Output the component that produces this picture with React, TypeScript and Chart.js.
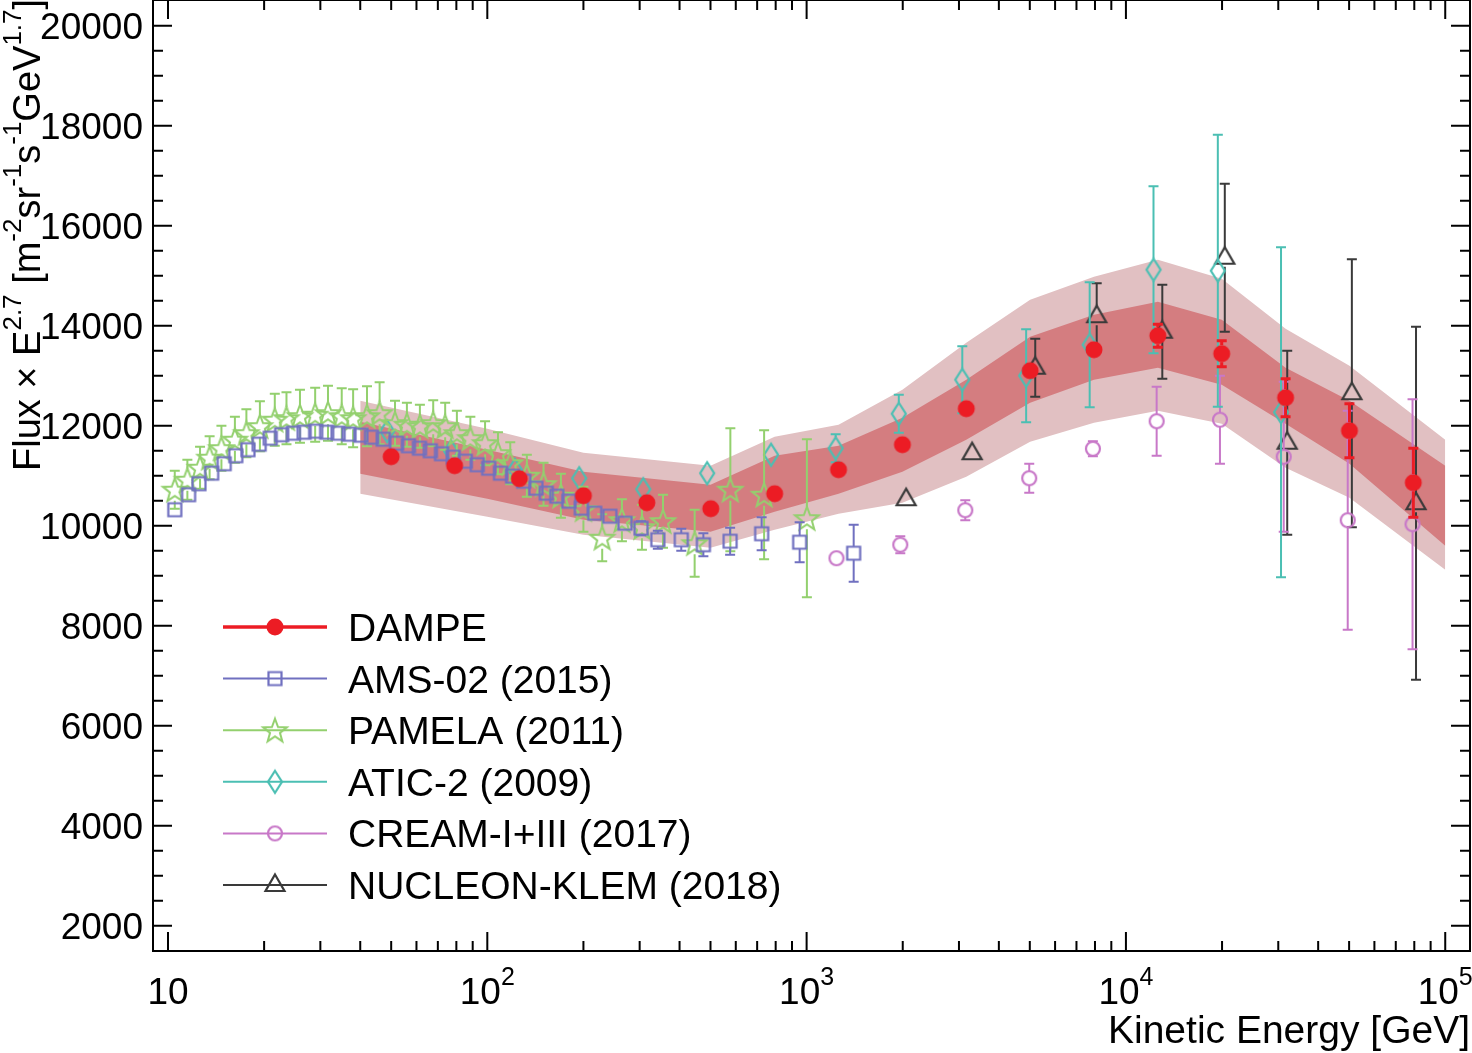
import { useEffect, useRef } from "react";
import { Chart, registerables } from "chart.js";

Chart.register(...registerables);

// ---- data (E in GeV, flux x E^2.7) ----
const dampeEnergy = [50, 79, 126, 200, 316, 501, 794, 1259, 1995, 3162, 5012, 7943, 12589, 19953, 31623, 50119, 79433];
const dampeFlux = [11380, 11200, 10940, 10600, 10460, 10340, 10640, 11120, 11620, 12340, 13100, 13520, 13800, 13440, 12560, 11900, 10860];
const dampeError = [40, 40, 40, 40, 50, 60, 70, 80, 100, 110, 130, 160, 230, 260, 380, 540, 690];

const amsEnergy = [10.5, 11.6, 12.5, 13.7, 15.0, 16.3, 17.8, 19.3, 20.9, 22.7, 24.7, 26.7, 29.0, 31.4, 34.1, 36.9, 40.2, 43.4, 47.2, 52.0, 56.6, 61.3, 66.3, 71.9, 78.2, 85.3, 93.0, 101, 110, 120, 130, 142, 153, 165, 180, 197, 217, 242, 270, 303, 342, 405, 475, 576, 723, 951, 1404];
const amsFlux = [10320, 10620, 10840, 11050, 11240, 11400, 11520, 11630, 11750, 11820, 11850, 11870, 11890, 11870, 11850, 11830, 11810, 11770, 11730, 11650, 11600, 11550, 11500, 11440, 11370, 11290, 11220, 11150, 11050, 10990, 10890, 10750, 10650, 10590, 10490, 10350, 10250, 10190, 10050, 9950, 9720, 9720, 9620, 9690, 9840, 9670, 9450];
const amsError = [50, 50, 50, 50, 50, 50, 50, 50, 50, 50, 50, 50, 50, 50, 50, 50, 60, 60, 60, 70, 70, 70, 70, 70, 80, 80, 80, 80, 90, 90, 90, 100, 100, 100, 110, 110, 120, 120, 130, 140, 180, 220, 230, 270, 330, 400, 570];

const pamelaEnergy = [10.5, 11.5, 12.6, 13.5, 14.7, 16.2, 17.6, 19.4, 21.6, 23.5, 25.9, 28.9, 31.7, 35.0, 38.0, 42.0, 46.0, 51.4, 56.0, 61.5, 67.7, 73.8, 80.3, 88.5, 98.4, 108, 118, 133, 150, 170, 200, 229, 264, 305, 355, 446, 577, 736, 1002];
const pamelaFlux = [10720, 10920, 11160, 11360, 11550, 11720, 11850, 11990, 12120, 12150, 12190, 12220, 12250, 12190, 12150, 12190, 12250, 12050, 12020, 11990, 12050, 11990, 11850, 11750, 11650, 11450, 11250, 11000, 10830, 10600, 10330, 9760, 10110, 9970, 10090, 9650, 10720, 10620, 10150];
const pamelaError = [380, 400, 420, 430, 450, 460, 480, 500, 520, 520, 530, 540, 550, 560, 580, 600, 620, 450, 440, 430, 460, 470, 450, 430, 440, 420, 420, 420, 430, 440, 450, 470, 420, 450, 530, 670, 1230, 1290, 1580];

const aticEnergy = [48.6, 77.0, 122, 194, 308, 488, 774, 1233, 1944, 3073, 4870, 7700, 12200, 19400, 30600];
const aticFlux = [11890, 11490, 11120, 10950, 10730, 11050, 11420, 11550, 12240, 12920, 13000, 13620, 15120, 15100, 12270];
const aticError = [100, 100, 100, 110, 130, 150, 200, 280, 380, 670, 930, 1250, 1670, 2720, 3300];

const creamEnergy = [1240, 1965, 3140, 4980, 7880, 12480, 19700, 31200, 49500, 79000];
const creamFlux = [9350, 9620, 10310, 10950, 11540, 12090, 12120, 11380, 10110, 10030];
const creamError = [100, 170, 200, 290, 150, 690, 880, 1500, 2190, 2500];

const nucleonEnergy = [2050, 3300, 5200, 8100, 13000, 20400, 32000, 51000, 81000];
const nucleonFlux = [10530, 11450, 13160, 14190, 13880, 15360, 11660, 12650, 10450];
const nucleonError = [100, 100, 580, 660, 940, 1480, 1840, 2680, 3530];

// DAMPE uncertainty bands (outer = light, inner = dark)
const bandEnergy = [40, 100, 200, 500, 794, 1259, 1995, 3162, 5012, 7943, 12589, 19953, 31623, 50119, 100000];
const bandOuterHigh = [12500, 11940, 11460, 11200, 11780, 12020, 12720, 13660, 14520, 14980, 15320, 14940, 13940, 13200, 11720];
const bandInnerHigh = [12080, 11520, 11080, 10820, 11400, 11600, 12160, 12920, 13780, 14220, 14480, 14120, 13160, 12500, 11200];
const bandInnerLow = [11040, 10540, 10120, 9880, 10280, 10640, 11080, 11720, 12460, 12920, 13160, 12820, 12040, 11240, 9600];
const bandOuterLow = [10640, 10180, 9820, 9560, 9920, 10240, 10460, 10980, 11680, 12060, 12300, 12040, 11160, 10560, 9120];

const yTickValues = [2000, 4000, 6000, 8000, 10000, 12000, 14000, 16000, 18000, 20000];
const yTickLabels = ["2000", "4000", "6000", "8000", "10000", "12000", "14000", "16000", "18000", "20000"];
const xDecades = [10, 100, 1000, 10000, 100000];
const xTickLabels = [["10", ""], ["10", "2"], ["10", "3"], ["10", "4"], ["10", "5"]];

const legendLabels = ["DAMPE", "AMS-02 (2015)", "PAMELA (2011)", "ATIC-2 (2009)", "CREAM-I+III (2017)", "NUCLEON-KLEM (2018)"];

const FONT = '"Liberation Sans", Arial, Helvetica, sans-serif';
const RED = "#ec1c24";
const BLUE = "#7070c0";
const GREEN = "#93d06e";
const TEAL = "#4bbfb3";
const PINK = "#c878c8";
const DARK = "#3a3a3a";

function makeMarker(kind: string, color: string) {
  const c = document.createElement("canvas");
  c.width = 30;
  c.height = 30;
  const g = c.getContext("2d")!;
  const m = 15;
  g.strokeStyle = color;
  g.fillStyle = color;
  g.lineWidth = 2.2;
  g.beginPath();
  if (kind === "disc") {
    g.arc(m, m, 8.5, 0, Math.PI * 2);
    g.fill();
  } else if (kind === "square") {
    g.rect(m - 6.5, m - 6.5, 13, 13);
    g.stroke();
  } else if (kind === "circle") {
    g.arc(m, m, 7, 0, Math.PI * 2);
    g.stroke();
  } else if (kind === "diamond") {
    g.moveTo(m, m - 11);
    g.lineTo(m + 7, m);
    g.lineTo(m, m + 11);
    g.lineTo(m - 7, m);
    g.closePath();
    g.stroke();
  } else if (kind === "triangle") {
    g.moveTo(m, m - 10.5);
    g.lineTo(m + 9.5, m + 6);
    g.lineTo(m - 9.5, m + 6);
    g.closePath();
    g.stroke();
  } else if (kind === "star") {
    for (let k = 0; k < 10; k++) {
      const r = k % 2 === 0 ? 12.5 : 5.2;
      const a = -Math.PI / 2 + (k * Math.PI) / 5;
      const px = m + r * Math.cos(a);
      const py = m + 1 + r * Math.sin(a);
      if (k === 0) g.moveTo(px, py);
      else g.lineTo(px, py);
    }
    g.closePath();
    g.lineWidth = 2;
    g.stroke();
  }
  return c;
}

const toPoints = (xs: number[], ys: number[]) => xs.map((x, i) => ({ x, y: ys[i] }));

const errorBarPlugin = {
  id: "errorBars",
  beforeDatasetDraw(chart: any, args: any) {
    const ds = chart.data.datasets[args.index];
    if (!ds.errors) return;
    const { ctx, chartArea, scales } = chart;
    ctx.save();
    ctx.beginPath();
    ctx.rect(chartArea.left, chartArea.top, chartArea.right - chartArea.left, chartArea.bottom - chartArea.top);
    ctx.clip();
    ctx.strokeStyle = ds.barColor;
    ctx.lineWidth = ds.barWidth;
    const gap = ds.markerHalf;
    const cap = ds.capHalf;
    ds.data.forEach((p: any, i: number) => {
      const e = ds.errors[i];
      const px = scales.x.getPixelForValue(p.x);
      const py = scales.y.getPixelForValue(p.y);
      const top = scales.y.getPixelForValue(p.y + e);
      const bottom = scales.y.getPixelForValue(p.y - e);
      ctx.beginPath();
      if (py - top > gap) {
        ctx.moveTo(px, top);
        ctx.lineTo(px, py - gap);
        ctx.moveTo(px - cap, top);
        ctx.lineTo(px + cap, top);
      }
      if (bottom - py > gap) {
        ctx.moveTo(px, py + gap);
        ctx.lineTo(px, bottom);
        ctx.moveTo(px - cap, bottom);
        ctx.lineTo(px + cap, bottom);
      }
      ctx.stroke();
    });
    ctx.restore();
  },
};

const frameTicks: number[] = [];
for (let v = 2000; v <= 20000; v += 500) frameTicks.push(v);
const xMinorTicks: number[] = [];
for (let d = 10; d < 100000; d *= 10) for (let k = 2; k <= 9; k++) xMinorTicks.push(d * k);

const axesPlugin = {
  id: "rootAxes",
  afterDraw(chart: any) {
    const { ctx, chartArea: a, scales } = chart;
    const xs = scales.x;
    const ys = scales.y;
    ctx.save();
    ctx.strokeStyle = "#000";
    ctx.fillStyle = "#000";
    ctx.lineWidth = 2;
    ctx.strokeRect(a.left, a.top, a.right - a.left, a.bottom - a.top);

    ctx.beginPath();
    frameTicks.forEach((v) => {
      const y = ys.getPixelForValue(v);
      const len = v % 2000 === 0 ? 19 : 10;
      ctx.moveTo(a.left, y);
      ctx.lineTo(a.left + len, y);
      ctx.moveTo(a.right, y);
      ctx.lineTo(a.right - len, y);
    });
    xDecades.forEach((v) => {
      const x = xs.getPixelForValue(v);
      ctx.moveTo(x, a.bottom);
      ctx.lineTo(x, a.bottom - 19);
      ctx.moveTo(x, a.top);
      ctx.lineTo(x, a.top + 19);
    });
    xMinorTicks.forEach((v) => {
      const x = xs.getPixelForValue(v);
      ctx.moveTo(x, a.bottom);
      ctx.lineTo(x, a.bottom - 10);
      ctx.moveTo(x, a.top);
      ctx.lineTo(x, a.top + 10);
    });
    ctx.stroke();

    // y tick labels
    ctx.font = `37px ${FONT}`;
    ctx.textAlign = "right";
    ctx.textBaseline = "alphabetic";
    yTickValues.forEach((v, i) => {
      ctx.fillText(yTickLabels[i], a.left - 10, ys.getPixelForValue(v) + 13);
    });

    // x tick labels with superscripts
    ctx.textAlign = "left";
    xDecades.forEach((v, i) => {
      const [base, sup] = xTickLabels[i];
      ctx.font = `37px ${FONT}`;
      const wb = ctx.measureText(base).width;
      ctx.font = `25px ${FONT}`;
      const ws = sup ? ctx.measureText(sup).width : 0;
      const x0 = xs.getPixelForValue(v) - (wb + ws) / 2;
      ctx.font = `37px ${FONT}`;
      ctx.fillText(base, x0, 1004);
      if (sup) {
        ctx.font = `25px ${FONT}`;
        ctx.fillText(sup, x0 + wb, 985);
      }
    });

    // x title
    ctx.font = `39px ${FONT}`;
    ctx.textAlign = "right";
    ctx.fillText("Kinetic Energy [GeV]", a.right, 1043);

    // y title
    const parts: [string, boolean][] = [
      ["Flux \u00d7 E", false], ["2.7", true], [" [m", false], ["-2", true], ["sr", false], ["-1", true],
      ["s", false], ["-1", true], ["GeV", false], ["1.7", true], ["]", false],
    ];
    ctx.save();
    ctx.translate(40, 471);
    ctx.rotate(-Math.PI / 2);
    ctx.textAlign = "left";
    let cx = 0;
    parts.forEach(([t, sup]) => {
      ctx.font = sup ? `26px ${FONT}` : `38px ${FONT}`;
      ctx.fillText(t, cx, sup ? -19 : 0);
      cx += ctx.measureText(t).width;
    });
    ctx.restore();

    // legend
    const rows = chart.data.datasets.slice(0, legendLabels.length);
    rows.forEach((ds: any, i: number) => {
      const y = 627 + i * 51.6;
      ctx.strokeStyle = ds.borderColor;
      ctx.lineWidth = i === 0 ? 3.5 : 2;
      ctx.beginPath();
      ctx.moveTo(223, y);
      ctx.lineTo(327, y);
      ctx.stroke();
      const img = ds.pointStyle;
      ctx.drawImage(img, 275 - img.width / 2, y - img.height / 2);
      ctx.fillStyle = "#000";
      ctx.font = `39px ${FONT}`;
      ctx.textAlign = "left";
      ctx.fillText(legendLabels[i], 348, y + 14);
    });
    ctx.restore();
  },
};

const App = () => {
  const canvasRef = useRef<HTMLCanvasElement | null>(null);

  useEffect(() => {
    if (!canvasRef.current) return;
    document.body.style.margin = "0";

    const series = (
      label: string,
      xs: number[],
      ys: number[],
      errs: number[],
      color: string,
      marker: string,
      half: number,
      barWidth: number,
    ) => ({
      label,
      data: toPoints(xs, ys),
      errors: errs,
      barColor: color,
      barWidth,
      markerHalf: half,
      capHalf: 5,
      borderColor: color,
      backgroundColor: color,
      pointStyle: makeMarker(marker, color),
      pointRadius: 10,
      showLine: false,
    });

    const band = (ys: number[], fill: any, color: string) => ({
      label: "band",
      data: toPoints(bandEnergy, ys),
      showLine: true,
      borderWidth: 0,
      borderColor: "rgba(0,0,0,0)",
      backgroundColor: color,
      pointRadius: 0,
      fill,
      tension: 0,
    });

    const chart = new Chart(canvasRef.current, {
      type: "scatter",
      data: {
        datasets: [
          series("DAMPE", dampeEnergy, dampeFlux, dampeError, RED, "disc", 8.5, 3),
          series("AMS-02", amsEnergy, amsFlux, amsError, BLUE, "square", 6.5, 2),
          series("PAMELA", pamelaEnergy, pamelaFlux, pamelaError, GREEN, "star", 11, 2),
          series("ATIC-2", aticEnergy, aticFlux, aticError, TEAL, "diamond", 11, 2),
          series("CREAM", creamEnergy, creamFlux, creamError, PINK, "circle", 7, 2),
          series("NUCLEON", nucleonEnergy, nucleonFlux, nucleonError, DARK, "triangle", 9, 2),
          band(bandInnerHigh, "+1", "#d47d80"),
          band(bandInnerLow, false, "#d47d80"),
          band(bandOuterHigh, "+1", "#e1c0c2"),
          band(bandOuterLow, false, "#e1c0c2"),
        ] as any,
      },
      options: {
        animation: false,
        responsive: false,
        events: [],
        layout: { autoPadding: false, padding: { left: 153, right: 2, top: 0, bottom: 102 } },
        scales: {
          x: { type: "logarithmic", min: 8.975, max: 119550, display: false },
          y: { type: "linear", min: 1494, max: 20514, display: false },
        },
        plugins: { legend: { display: false }, tooltip: { enabled: false } },
      },
      plugins: [errorBarPlugin, axesPlugin],
    });

    return () => {
      chart.destroy();
    };
  }, []);

  return (
    <div style={{ width: 1472, height: 1053, background: "#fff" }}>
      <canvas ref={canvasRef} width={1472} height={1053} style={{ display: "block" }} />
    </div>
  );
};

export default App;
